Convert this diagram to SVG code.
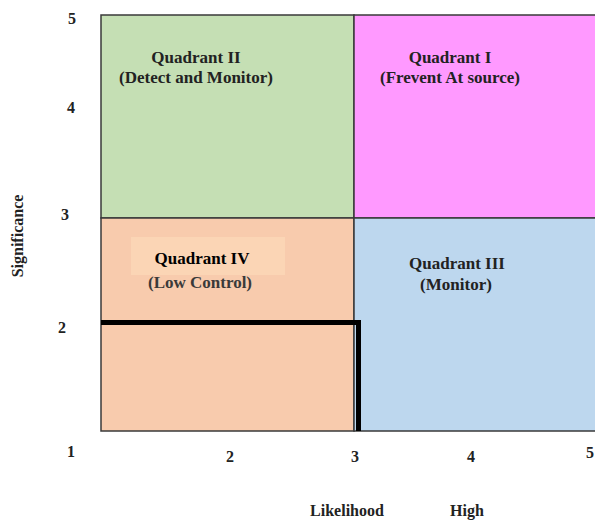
<svg xmlns="http://www.w3.org/2000/svg" width="595" height="520" viewBox="0 0 595 520">
<style>
text{font-family:"Liberation Serif","Times New Roman",serif;font-weight:bold;fill:#222}
.q{font-size:17px;text-anchor:middle}
.n{font-size:16px;text-anchor:middle}
.cell{stroke:#3a3a3a;stroke-width:1.5}
</style>
<rect width="595" height="520" fill="#ffffff"/>
<g id="q2"><rect class="cell" x="101" y="15" width="253" height="203" fill="#C5DFB4"/>
<text class="q" x="196" y="63">Quadrant II</text>
<text class="q" x="196" y="83">(Detect and Monitor)</text></g>
<g id="q1"><rect class="cell" x="354" y="15" width="245" height="203" fill="#FF99FF"/>
<text class="q" x="450" y="63">Quadrant I</text>
<text class="q" x="450" y="83">(Frevent At source)</text></g>
<g id="q4"><rect class="cell" x="101" y="218" width="253" height="213" fill="#F8CBAD"/>
<rect x="131" y="237" width="154" height="38" fill="#FBD5B5"/>
<text class="q" x="202" y="264" style="fill:#000">Quadrant IV</text>
<text class="q" x="200" y="288" style="fill:#3a3a3a">(Low Control)</text></g>
<g id="q3"><rect class="cell" x="354" y="218" width="245" height="213" fill="#BDD7EE"/>
<text class="q" x="457" y="269">Quadrant III</text>
<text class="q" x="456" y="290">(Monitor)</text></g>
<g id="connectors"><path d="M101 322.5H358.5V431" fill="none" stroke="#000" stroke-width="5"/></g>
<g id="axes">
<text class="n" x="72" y="24">5</text>
<text class="n" x="71" y="113">4</text>
<text class="n" x="65" y="220">3</text>
<text class="n" x="62" y="333">2</text>
<text class="n" x="71" y="457">1</text>
<text class="n" x="230" y="462">2</text>
<text class="n" x="355" y="462">3</text>
<text class="n" x="471" y="462">4</text>
<text class="n" x="590" y="458">5</text>
<text class="n" x="347" y="516">Likelihood</text>
<text class="n" x="467" y="516">High</text>
<text class="n" transform="translate(23 236) rotate(-90)">Significance</text>
</g>
</svg>
